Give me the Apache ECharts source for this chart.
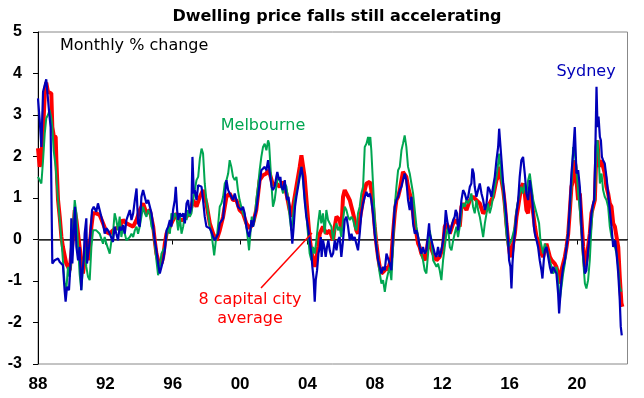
<!DOCTYPE html>
<html><head><meta charset="utf-8">
<script src="https://cdn.jsdelivr.net/npm/echarts@6/dist/echarts.min.js"></script>
<style>html,body{margin:0;padding:0;background:#fff}#c{width:644px;height:398px}</style>
</head><body><div id="c"></div>
<script>
const titleText = 'Dwelling price falls still accelerating';
const unitLabel = 'Monthly % change';
const sydneyLabel = 'Sydney';
const melbourneLabel = 'Melbourne';
const avgLabel = ['8 capital city', 'average'];
const xTickYears = [1988,1992,1996,2000,2004,2008,2012,2016,2020];

// [year, monthly % change]
const sydney = [
[1988.00,3.40],[1988.10,2.88],[1988.20,2.23],[1988.30,3.56],[1988.40,3.72],[1988.49,3.86],[1988.59,3.84],[1988.65,3.12],[1988.75,2.71],[1988.85,-0.58],[1988.99,-0.50],[1989.09,-0.50],[1989.19,-0.46],[1989.29,-0.54],[1989.39,-0.50],[1989.48,-0.62],[1989.58,-1.22],[1989.64,-1.50],[1989.72,-1.14],[1989.84,-1.22],[1989.92,-0.66],[1989.98,0.51],[1990.04,-0.58],[1990.12,0.14],[1990.20,0.79],[1990.28,-0.18],[1990.38,-0.50],[1990.47,-0.18],[1990.57,-1.22],[1990.63,-0.82],[1990.71,-0.50],[1990.77,0.14],[1990.87,0.51],[1990.91,-0.58],[1991.03,-0.18],[1991.11,0.14],[1991.21,0.71],[1991.31,0.79],[1991.40,0.79],[1991.46,0.67],[1991.56,0.87],[1991.66,0.71],[1991.76,0.55],[1991.86,0.39],[1991.96,0.14],[1992.06,0.27],[1992.16,0.22],[1992.26,0.14],[1992.35,0.14],[1992.45,-0.06],[1992.55,0.31],[1992.65,0.14],[1992.75,-0.02],[1992.85,0.31],[1992.95,0.22],[1993.05,0.35],[1993.15,0.14],[1993.25,0.47],[1993.34,0.51],
[1993.45,0.71],[1993.55,0.47],[1993.65,0.63],[1993.75,0.95],[1993.85,1.23],[1993.94,0.39],[1994.04,0.31],[1994.14,1.03],[1994.24,1.19],[1994.34,1.03],[1994.44,0.87],[1994.54,0.95],[1994.64,0.99],[1994.74,0.63],[1994.84,0.31],[1994.93,-0.02],[1995.03,-0.26],[1995.13,-0.58],[1995.23,-0.82],[1995.33,-0.66],[1995.43,-0.50],[1995.53,-0.26],[1995.63,0.22],[1995.73,0.31],[1995.83,0.47],[1995.92,0.31],[1996.02,0.71],[1996.12,0.95],[1996.18,1.27],[1996.26,0.71],[1996.32,0.47],[1996.42,0.63],[1996.52,0.55],[1996.62,0.63],[1996.72,0.39],[1996.82,0.87],[1996.91,0.95],[1997.01,0.63],[1997.11,0.79],[1997.17,1.99],[1997.25,1.11],[1997.31,1.19],[1997.41,0.95],[1997.51,1.31],[1997.61,1.35],[1997.71,1.27],[1997.80,0.95],[1997.90,0.55],[1998.00,0.31],[1998.10,0.35],[1998.20,0.27],[1998.30,0.18],[1998.40,0.06],[1998.50,-0.02],[1998.60,-0.02],[1998.70,0.14],[1998.79,0.39],[1998.89,0.39],[1998.99,0.51],[1999.09,1.03],[1999.19,1.43],[1999.29,1.19],
[1999.38,1.19],[1999.48,1.03],[1999.58,0.95],[1999.68,1.11],[1999.78,0.95],[1999.87,0.79],[1999.97,0.83],[2000.07,0.71],[2000.17,0.79],[2000.27,0.63],[2000.37,0.31],[2000.47,0.14],[2000.53,0.06],[2000.61,0.22],[2000.67,0.47],[2000.77,0.31],[2000.86,0.55],[2000.96,0.71],[2001.06,1.03],[2001.16,1.35],[2001.26,1.67],[2001.36,1.63],[2001.46,1.75],[2001.56,1.67],[2001.66,1.91],[2001.72,1.87],[2001.79,1.51],[2001.87,1.27],[2001.95,1.19],[2002.05,1.27],[2002.15,1.51],[2002.21,1.63],[2002.31,1.43],[2002.39,1.51],[2002.45,1.27],[2002.55,1.19],[2002.65,1.43],[2002.71,1.19],[2002.79,0.95],[2002.87,1.03],[2002.94,0.79],[2003.04,0.22],[2003.10,-0.10],[2003.18,0.31],[2003.26,0.79],[2003.34,1.03],[2003.44,1.27],[2003.54,1.51],[2003.64,1.75],[2003.73,1.51],[2003.83,0.95],[2003.93,0.55],[2004.03,0.31],[2004.13,-0.02],[2004.23,-0.34],[2004.29,-0.66],[2004.37,-0.98],[2004.43,-1.50],[2004.49,-0.98],[2004.57,-0.74],[2004.65,-0.34],[2004.73,-0.18],[2004.79,0.06],[2004.84,-0.42],[2004.92,-0.02],[2005.00,-0.18],[2005.08,-0.42],[2005.16,-0.18],[2005.24,-0.02],
[2005.32,-0.26],[2005.42,-0.42],[2005.52,-0.34],[2005.62,-0.02],[2005.72,-0.26],[2005.81,-0.02],[2005.91,0.06],[2006.01,-0.42],[2006.11,-0.02],[2006.21,0.47],[2006.31,0.55],[2006.41,0.31],[2006.51,-0.02],[2006.61,0.14],[2006.71,-0.02],[2006.80,0.06],[2006.90,-0.10],[2007.00,-0.26],[2007.10,0.14],[2007.20,0.63],[2007.30,0.87],[2007.40,1.03],[2007.50,1.15],[2007.60,1.03],[2007.70,1.11],[2007.79,0.95],[2007.89,0.63],[2007.99,0.14],[2008.09,-0.18],[2008.19,-0.50],[2008.29,-0.66],[2008.39,-0.82],[2008.49,-0.66],[2008.59,-0.74],[2008.69,-0.34],[2008.78,-0.34],[2008.88,-0.58],[2008.98,-0.74],[2009.08,0.14],[2009.18,0.79],[2009.28,0.95],[2009.38,1.03],[2009.48,1.19],[2009.58,1.27],[2009.67,1.43],[2009.77,1.59],[2009.87,1.43],[2009.97,0.95],[2010.07,0.71],[2010.17,1.03],[2010.27,0.39],[2010.37,0.14],[2010.47,0.22],[2010.57,0.06],[2010.66,-0.18],[2010.76,-0.34],[2010.86,-0.18],[2010.96,-0.34],[2011.06,-0.26],[2011.16,0.14],[2011.22,0.39],
[2011.26,0.14],[2011.36,-0.02],[2011.46,-0.18],[2011.56,-0.34],[2011.66,-0.42],[2011.75,-0.18],[2011.85,-0.42],[2011.95,-0.26],[2012.05,-0.02],[2012.15,0.31],[2012.21,0.71],[2012.29,0.47],[2012.35,0.31],[2012.45,0.14],[2012.55,0.31],[2012.65,0.47],[2012.74,0.55],[2012.80,0.71],[2012.88,0.63],[2012.94,0.22],[2013.04,0.47],[2013.14,0.95],[2013.24,1.19],[2013.34,1.11],[2013.44,0.95],[2013.54,1.03],[2013.64,1.27],[2013.73,1.35],[2013.79,1.71],[2013.87,1.59],[2013.93,1.27],[2014.03,1.03],[2014.13,1.19],[2014.23,1.35],[2014.33,1.11],[2014.43,0.95],[2014.53,0.71],[2014.63,0.87],[2014.72,1.27],[2014.82,1.19],[2014.92,1.03],[2015.02,1.27],[2015.12,1.51],[2015.22,1.91],[2015.32,2.23],[2015.38,2.67],[2015.46,2.23],[2015.52,1.91],[2015.62,1.35],[2015.71,0.95],[2015.81,0.55],[2015.91,-0.02],[2015.97,-0.50],[2016.05,-0.66],[2016.11,-1.18],[2016.17,-0.58],[2016.25,-0.10],[2016.33,0.22],[2016.41,0.63],[2016.51,0.95],[2016.60,1.51],[2016.70,1.91],[2016.80,1.99],[2016.90,1.59],[2017.00,1.11],[2017.10,0.95],
[2017.20,1.43],[2017.30,1.11],[2017.36,0.87],[2017.44,0.31],[2017.50,0.14],[2017.60,-0.02],[2017.69,-0.18],[2017.79,-0.50],[2017.89,-0.74],[2017.95,-0.94],[2018.03,-0.50],[2018.09,-0.26],[2018.19,-0.18],[2018.29,-0.42],[2018.39,-0.66],[2018.49,-0.82],[2018.59,-0.66],[2018.68,-0.74],[2018.78,-0.82],[2018.88,-1.30],[2018.94,-1.78],[2019.02,-1.30],[2019.08,-0.98],[2019.18,-0.66],[2019.28,-0.50],[2019.38,-0.18],[2019.48,0.14],[2019.58,0.87],[2019.67,1.59],[2019.77,2.07],[2019.87,2.71],[2019.97,1.59],[2020.07,1.67],[2020.17,1.27],[2020.21,0.95],[2020.27,0.31],[2020.37,-0.34],[2020.47,-0.82],[2020.56,-0.74],[2020.66,-0.26],[2020.76,0.14],[2020.86,0.63],[2020.96,0.87],[2021.02,0.95],[2021.08,1.91],[2021.16,3.68],[2021.22,2.71],[2021.28,2.96],[2021.36,2.47],[2021.42,2.39],[2021.48,1.99],[2021.55,1.91],[2021.65,1.83],[2021.75,1.51],[2021.85,1.11],[2021.95,0.71],[2022.05,0.31],[2022.15,-0.18],[2022.21,-0.22],[2022.27,-0.02],[2022.35,-0.34],[2022.45,-0.82],[2022.54,-1.46],[2022.60,-2.10],[2022.66,-2.31]
];

const capitalAvg = [
[1988.00,2.20],[1988.10,1.75],[1988.20,2.00],[1988.30,2.60],[1988.40,3.50],[1988.49,3.78],[1988.59,3.56],[1988.79,3.52],[1988.85,2.71],[1988.93,2.51],[1989.05,2.47],[1989.09,1.91],[1989.19,0.95],[1989.29,0.55],[1989.39,0.06],[1989.48,-0.18],[1989.68,-0.58],[1989.78,-0.66],[1989.88,-0.74],[1989.98,-0.34],[1990.08,0.06],[1990.18,0.71],[1990.28,0.47],[1990.38,0.47],[1990.47,-0.18],[1990.57,-0.50],[1990.67,-0.82],[1990.77,-0.50],[1990.87,-0.02],[1990.97,-0.50],[1991.07,-0.18],[1991.17,0.31],[1991.27,0.63],[1991.37,0.67],[1991.46,0.63],[1991.66,0.59],[1991.86,0.39],[1992.06,0.18],[1992.26,0.14],[1992.45,0.22],[1992.65,0.27],[1992.85,0.31],[1993.05,0.47],[1993.25,0.39],
[1993.45,0.35],[1993.65,0.31],[1993.85,0.47],[1994.04,0.71],[1994.24,0.87],[1994.44,0.63],[1994.64,0.71],[1994.84,0.31],[1994.93,-0.02],[1995.03,-0.34],[1995.13,-0.50],[1995.33,-0.58],[1995.43,-0.42],[1995.53,-0.10],[1995.63,0.14],[1995.83,0.31],[1996.02,0.47],[1996.22,0.63],[1996.42,0.47],[1996.62,0.47],[1996.82,0.55],[1997.01,0.63],[1997.21,0.95],[1997.41,0.79],[1997.61,1.03],[1997.80,1.19],[1998.00,0.87],[1998.20,0.39],[1998.40,0.14],[1998.60,-0.02],[1998.79,0.22],[1998.99,0.55],[1999.19,1.03],
[1999.38,1.11],[1999.58,0.95],[1999.78,0.95],[1999.97,0.71],[2000.17,0.63],[2000.37,0.39],[2000.57,0.27],[2000.77,0.39],[2000.96,0.71],[2001.16,1.43],[2001.36,1.55],[2001.56,1.59],[2001.66,1.67],[2001.76,1.59],[2001.95,1.31],[2002.15,1.35],[2002.35,1.27],[2002.55,1.39],[2002.75,1.11],[2002.94,0.71],[2003.04,0.55],[2003.14,0.79],[2003.34,1.27],[2003.54,1.75],[2003.64,2.03],[2003.73,1.99],[2003.83,1.51],[2003.97,0.79],[2004.09,0.22],[2004.17,-0.10],[2004.29,-0.42],[2004.43,-0.66],[2004.53,-0.42],[2004.63,-0.18],[2004.73,0.14],[2004.92,0.31],[2005.12,0.14],
[2005.32,0.22],[2005.52,-0.02],[2005.62,0.31],[2005.72,0.55],[2005.81,0.55],[2005.91,0.47],[2006.01,0.22],[2006.11,1.03],[2006.21,1.19],[2006.31,1.15],[2006.41,1.03],[2006.51,0.95],[2006.61,0.79],[2006.71,0.63],[2006.80,0.47],[2006.90,0.22],[2007.00,0.14],[2007.10,0.47],[2007.20,0.71],[2007.30,0.95],[2007.40,1.19],[2007.50,1.35],[2007.60,1.39],[2007.70,1.39],[2007.79,1.19],[2007.89,0.79],[2007.99,0.31],[2008.09,-0.10],[2008.19,-0.42],[2008.29,-0.66],[2008.39,-0.82],[2008.49,-0.86],[2008.59,-0.74],[2008.69,-0.66],[2008.78,-0.74],[2008.88,-0.58],[2008.98,-0.42],[2009.08,0.14],[2009.18,0.63],[2009.28,0.95],[2009.38,1.03],[2009.48,1.19],[2009.58,1.43],[2009.67,1.63],[2009.77,1.63],[2009.87,1.51],[2009.97,1.27],[2010.07,1.11],[2010.17,0.95],[2010.27,0.63],[2010.37,0.31],[2010.47,0.14],[2010.57,-0.10],[2010.66,-0.18],[2010.76,-0.34],[2010.86,-0.42],[2010.96,-0.50],[2011.06,-0.34],[2011.16,-0.02],
[2011.26,-0.02],[2011.46,-0.34],[2011.66,-0.50],[2011.85,-0.42],[2012.05,-0.18],[2012.15,0.31],[2012.25,0.39],[2012.35,0.31],[2012.45,0.14],[2012.65,0.39],[2012.84,0.47],[2013.04,0.31],[2013.14,0.79],[2013.24,0.87],[2013.44,0.71],[2013.64,0.95],[2013.83,1.03],[2014.03,0.95],[2014.23,0.87],[2014.43,0.63],[2014.63,0.71],[2014.82,0.87],[2015.02,1.03],[2015.22,1.43],[2015.32,1.51],[2015.42,1.75],[2015.52,1.43],[2015.62,1.19],[2015.71,0.87],[2015.81,0.39],[2015.91,-0.02],[2016.01,-0.34],[2016.11,-0.42],[2016.21,-0.10],[2016.31,0.14],[2016.41,0.55],[2016.51,0.79],[2016.60,1.03],[2016.70,1.27],[2016.80,1.35],[2016.90,1.11],[2017.00,0.71],[2017.10,0.63],
[2017.20,1.27],[2017.30,1.03],[2017.40,0.63],[2017.50,0.31],[2017.60,0.06],[2017.69,-0.02],[2017.79,-0.18],[2017.89,-0.34],[2017.99,-0.42],[2018.09,-0.26],[2018.19,-0.10],[2018.29,-0.26],[2018.39,-0.42],[2018.49,-0.50],[2018.59,-0.50],[2018.68,-0.58],[2018.78,-0.66],[2018.88,-0.82],[2018.94,-1.06],[2019.02,-0.90],[2019.08,-0.74],[2019.18,-0.58],[2019.28,-0.42],[2019.38,-0.18],[2019.48,0.14],[2019.58,0.71],[2019.67,1.27],[2019.77,1.43],[2019.87,1.91],[2019.97,1.43],[2020.07,0.95],[2020.17,1.11],[2020.27,0.47],[2020.37,-0.18],[2020.47,-0.66],[2020.56,-0.50],[2020.66,-0.18],[2020.76,0.14],[2020.86,0.63],[2020.96,0.79],[2021.06,0.95],[2021.16,2.23],[2021.22,2.39],[2021.28,1.91],[2021.36,1.75],[2021.46,1.91],[2021.55,1.75],[2021.65,1.59],[2021.75,1.27],[2021.85,1.11],[2021.95,0.87],[2022.05,0.79],[2022.15,0.39],[2022.25,0.31],[2022.35,0.31],[2022.45,-0.18],[2022.54,-0.90],[2022.64,-1.54],[2022.70,-1.62]
];

const melbourne = [
[1988.00,1.51],[1988.10,1.47],[1988.20,1.35],[1988.30,1.91],[1988.40,2.55],[1988.49,2.92],[1988.59,3.00],[1988.69,3.12],[1988.79,2.92],[1988.85,2.71],[1988.93,2.15],[1989.05,1.75],[1989.13,1.27],[1989.19,0.95],[1989.29,0.47],[1989.39,-0.02],[1989.48,-0.50],[1989.58,-1.06],[1989.68,-1.22],[1989.78,-0.66],[1989.88,-0.90],[1989.98,-0.50],[1990.08,0.31],[1990.18,0.95],[1990.28,0.63],[1990.38,-0.18],[1990.47,-0.82],[1990.57,-1.22],[1990.67,-0.66],[1990.77,-0.18],[1990.87,-0.66],[1990.97,-0.90],[1991.07,-0.98],[1991.17,-0.18],[1991.27,0.22],[1991.37,0.18],[1991.46,0.22],[1991.66,0.14],[1991.86,-0.10],[1991.96,0.06],[1992.06,-0.10],[1992.26,-0.34],[1992.35,-0.06],[1992.45,0.14],[1992.55,0.63],[1992.65,0.47],[1992.75,0.22],[1992.85,0.55],[1992.95,0.06],[1993.05,0.31],[1993.25,-0.02],
[1993.45,0.06],[1993.55,0.14],[1993.65,0.06],[1993.75,0.22],[1993.85,0.31],[1993.94,0.14],[1994.04,0.31],[1994.14,0.55],[1994.24,0.79],[1994.34,0.63],[1994.44,0.55],[1994.54,0.71],[1994.64,0.63],[1994.74,0.31],[1994.84,0.22],[1994.93,-0.10],[1995.03,-0.50],[1995.13,-0.86],[1995.23,-0.66],[1995.33,-0.34],[1995.43,-0.34],[1995.53,-0.18],[1995.63,0.06],[1995.73,0.31],[1995.83,0.14],[1995.92,0.63],[1996.02,0.47],[1996.12,0.63],[1996.22,0.55],[1996.32,0.22],[1996.42,0.55],[1996.52,0.14],[1996.62,0.31],[1996.72,0.63],[1996.82,0.47],[1996.91,0.71],[1997.01,0.55],[1997.11,0.63],[1997.21,0.95],[1997.31,1.19],[1997.41,1.43],[1997.51,1.51],[1997.61,1.95],[1997.71,2.19],[1997.80,2.07],[1997.90,1.35],[1998.00,0.95],[1998.10,0.63],[1998.20,0.31],[1998.30,0.14],[1998.40,-0.18],[1998.46,-0.38],[1998.56,-0.02],[1998.64,0.14],[1998.72,0.47],[1998.79,0.79],[1998.89,0.87],[1998.99,1.03],[1999.09,1.35],[1999.19,1.43],[1999.29,1.59],
[1999.38,1.91],[1999.48,1.75],[1999.58,1.51],[1999.68,1.43],[1999.78,1.51],[1999.87,1.19],[1999.97,0.95],[2000.07,0.79],[2000.17,0.63],[2000.27,0.55],[2000.37,0.31],[2000.47,-0.02],[2000.53,-0.26],[2000.61,0.14],[2000.69,0.55],[2000.77,0.31],[2000.86,0.47],[2000.96,0.95],[2001.06,1.27],[2001.16,1.67],[2001.26,1.99],[2001.36,2.23],[2001.46,2.31],[2001.56,2.15],[2001.66,2.39],[2001.72,2.31],[2001.79,1.83],[2001.87,1.27],[2001.95,0.79],[2002.05,0.95],[2002.15,1.27],[2002.25,1.51],[2002.35,1.43],[2002.45,1.27],[2002.55,1.11],[2002.65,1.35],[2002.75,1.27],[2002.85,0.95],[2002.94,0.55],[2003.04,0.22],[2003.14,0.55],[2003.24,0.95],[2003.34,1.11],[2003.44,1.35],[2003.54,1.59],[2003.64,1.75],[2003.73,1.43],[2003.83,1.03],[2003.93,0.63],[2004.03,0.14],[2004.13,-0.34],[2004.23,-0.50],[2004.33,-0.18],[2004.43,-0.34],[2004.53,-0.02],[2004.63,0.39],[2004.73,0.71],[2004.82,0.39],[2004.92,0.63],[2005.02,0.14],[2005.12,0.71],[2005.22,0.47],
[2005.32,0.47],[2005.42,0.31],[2005.52,-0.02],[2005.62,0.22],[2005.72,0.39],[2005.81,0.22],[2005.91,0.31],[2006.01,0.06],[2006.11,0.47],[2006.21,0.79],[2006.31,0.71],[2006.41,0.55],[2006.51,0.47],[2006.61,0.55],[2006.71,0.47],[2006.80,0.31],[2006.90,0.22],[2007.00,0.63],[2007.10,0.79],[2007.20,1.11],[2007.30,1.27],[2007.40,2.23],[2007.50,2.31],[2007.60,2.47],[2007.66,2.27],[2007.73,2.47],[2007.79,2.15],[2007.89,1.35],[2007.99,0.55],[2008.09,-0.10],[2008.19,-0.50],[2008.29,-0.82],[2008.39,-1.06],[2008.49,-0.98],[2008.59,-1.26],[2008.69,-0.98],[2008.78,-0.82],[2008.88,-0.66],[2008.98,-0.98],[2009.08,-0.18],[2009.18,0.79],[2009.28,1.27],[2009.38,1.67],[2009.48,1.75],[2009.58,2.15],[2009.67,2.31],[2009.77,2.51],[2009.87,2.23],[2009.97,1.75],[2010.07,1.59],[2010.17,1.35],[2010.27,1.11],[2010.37,0.71],[2010.47,0.31],[2010.57,0.06],[2010.66,-0.18],[2010.76,-0.34],[2010.86,-0.50],[2010.96,-0.74],[2011.06,-0.82],[2011.16,-0.34],
[2011.26,0.22],[2011.36,-0.02],[2011.46,-0.50],[2011.56,-0.58],[2011.66,-0.66],[2011.75,-0.58],[2011.85,-0.74],[2011.95,-0.98],[2012.05,-0.50],[2012.15,-0.18],[2012.25,0.14],[2012.35,0.31],[2012.45,-0.18],[2012.55,-0.26],[2012.65,-0.02],[2012.74,0.14],[2012.84,0.31],[2012.94,0.06],[2013.04,0.31],[2013.14,0.71],[2013.24,0.87],[2013.34,0.79],[2013.44,0.95],[2013.54,0.87],[2013.64,0.95],[2013.73,1.11],[2013.83,0.79],[2013.93,0.63],[2014.03,0.95],[2014.13,0.71],[2014.23,0.55],[2014.33,0.31],[2014.43,0.06],[2014.53,0.39],[2014.63,0.63],[2014.72,0.87],[2014.82,0.63],[2014.92,0.79],[2015.02,1.03],[2015.12,1.27],[2015.22,1.51],[2015.32,1.83],[2015.38,2.07],[2015.46,1.75],[2015.52,1.43],[2015.62,1.19],[2015.71,0.71],[2015.81,0.14],[2015.91,-0.18],[2016.01,-0.10],[2016.11,-0.02],[2016.21,0.14],[2016.31,0.31],[2016.41,0.71],[2016.51,0.95],[2016.60,1.11],[2016.70,1.27],[2016.80,1.11],[2016.90,1.35],[2017.00,1.11],[2017.10,1.43],
[2017.20,1.59],[2017.30,1.27],[2017.40,0.95],[2017.50,0.79],[2017.60,0.63],[2017.69,0.63],[2017.75,0.39],[2017.83,-0.02],[2017.91,-0.18],[2017.99,-0.34],[2018.09,-0.10],[2018.19,-0.10],[2018.29,-0.34],[2018.39,-0.50],[2018.49,-0.66],[2018.59,-0.82],[2018.68,-0.74],[2018.78,-0.66],[2018.88,-0.98],[2018.98,-1.46],[2019.08,-1.14],[2019.18,-0.82],[2019.28,-0.58],[2019.38,-0.18],[2019.48,0.22],[2019.58,0.71],[2019.67,1.27],[2019.77,2.23],[2019.87,2.07],[2019.97,1.75],[2020.07,1.11],[2020.17,0.71],[2020.27,0.14],[2020.37,-0.50],[2020.47,-1.06],[2020.56,-1.18],[2020.66,-0.98],[2020.76,-0.50],[2020.86,0.31],[2020.96,0.87],[2021.06,0.95],[2021.16,2.31],[2021.22,2.39],[2021.28,2.07],[2021.36,1.35],[2021.46,1.59],[2021.55,1.19],[2021.65,1.03],[2021.75,0.95],[2021.85,0.79],[2021.95,0.31],[2022.05,0.06],[2022.15,-0.02],[2022.25,-0.02],[2022.35,-0.34],[2022.45,-0.66],[2022.54,-1.14],[2022.64,-1.26]
];

const chart = echarts.init(document.getElementById('c'));
const axisFont = 'Liberation Sans, Arial, sans-serif';
const noteFont = 'DejaVu Sans, sans-serif';
const blue = '#0000b8', green = '#00a651', red = '#ff0000';

chart.setOption({
  animation: false,
  backgroundColor: '#fff',
  title: {
    text: titleText, left: 332, top: 4, textAlign: 'center',
    textStyle: {fontFamily: noteFont, fontSize: 16, fontWeight: 'bold', color: '#000'}
  },
  grid: {left: 38, right: 16.5, top: 32, bottom: 34, show: true, borderColor: '#888', borderWidth: 1, containLabel: false},
  xAxis: {
    type: 'value', min: 1988, max: 2023, interval: 4,
    axisLine: {lineStyle: {color: '#000', width: 1}},
    axisTick: {show: true, length: 5, customValues: xTickYears, lineStyle: {color: '#000'}},
    axisLabel: {customValues: xTickYears, margin: 12, fontFamily: axisFont, fontSize: 17, fontWeight: 'bold', color: '#000',
      formatter: v => String(v % 100).padStart(2, '0')},
    splitLine: {show: false}
  },
  yAxis: {
    type: 'value', min: -3, max: 5, interval: 1,
    axisLine: {show: true, lineStyle: {color: '#000', width: 1}},
    axisTick: {show: true, length: 5, lineStyle: {color: '#000'}},
    axisLabel: {margin: 16, fontFamily: axisFont, fontSize: 16, fontWeight: 'bold', color: '#000'},
    splitLine: {show: false}
  },
  series: [
    {name: '8 capital city average', type: 'line', data: capitalAvg, showSymbol: false, symbol: 'none',
     lineStyle: {color: red, width: 4}, z: 2,
     markLine: {silent: true, symbol: 'none', label: {show: false}, lineStyle: {color: '#333', width: 1.5, type: 'solid'},
       data: [{yAxis: 0}], z: 1}},
    {name: 'Melbourne', type: 'line', data: melbourne, showSymbol: false, symbol: 'none', lineStyle: {color: green, width: 2}, z: 3},
    {name: 'Sydney', type: 'line', data: sydney, showSymbol: false, symbol: 'none', lineStyle: {color: blue, width: 2.2}, z: 4}
  ],
  graphic: [
    {type: 'text', left: 60, top: 38, style: {text: unitLabel, font: '16px ' + noteFont, fill: '#000'}},
    {type: 'text', x: 586, y: 72, style: {text: sydneyLabel, font: '16px ' + noteFont, fill: blue, align: 'center', verticalAlign: 'middle'}},
    {type: 'text', x: 263, y: 126, style: {text: melbourneLabel, font: '16px ' + noteFont, fill: green, align: 'center', verticalAlign: 'middle'}},
    {type: 'text', x: 250, y: 300, style: {text: avgLabel[0], font: '16px ' + noteFont, fill: red, align: 'center', verticalAlign: 'middle'}},
    {type: 'text', x: 250, y: 319, style: {text: avgLabel[1], font: '16px ' + noteFont, fill: red, align: 'center', verticalAlign: 'middle'}},
    {type: 'line', shape: {x1: 261, y1: 288, x2: 312, y2: 233}, style: {stroke: red, lineWidth: 1.5}, z: 10}
  ]
});
</script>
</body></html>
